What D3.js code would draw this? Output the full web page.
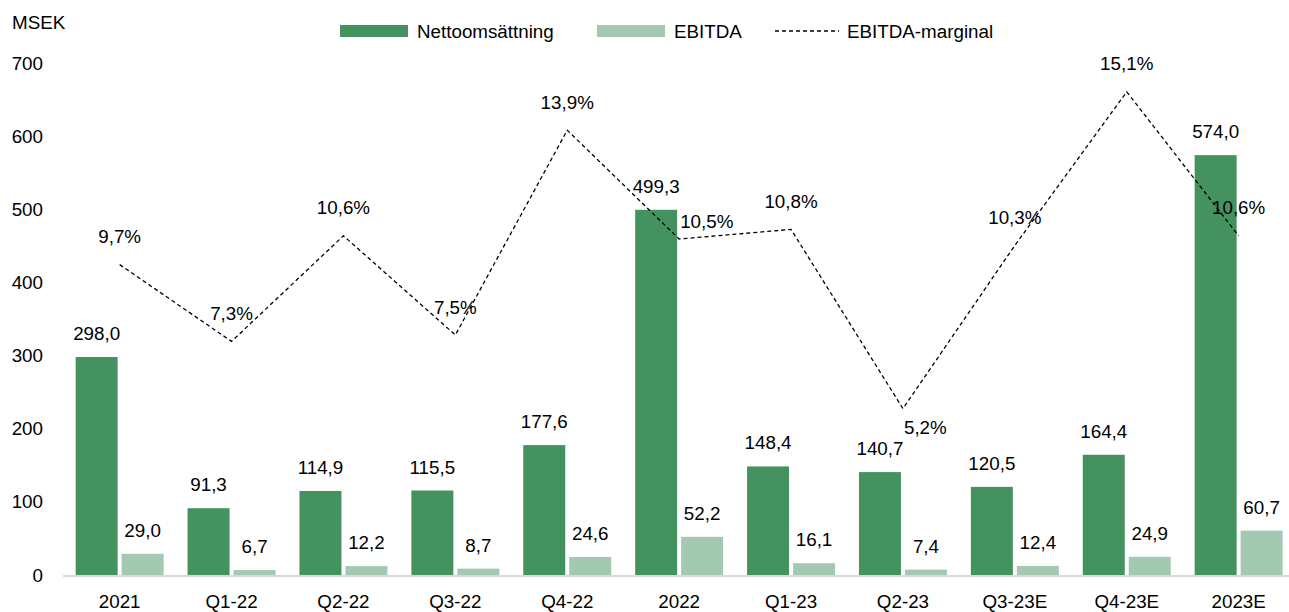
<!DOCTYPE html>
<html><head><meta charset="utf-8">
<script src="https://cdn.jsdelivr.net/npm/d3@7"></script>
<style>
body{margin:0;background:#fff;}
svg text{font-family:"Liberation Sans",Arial,sans-serif;fill:#000;}
</style></head>
<body><svg id="c" width="1289" height="612"></svg>
<script>
const categories = ["2021","Q1-22","Q2-22","Q3-22","Q4-22","2022","Q1-23","Q2-23","Q3-23E","Q4-23E","2023E"];
const netSales = [298.0,91.3,114.9,115.5,177.6,499.3,148.4,140.7,120.5,164.4,574.0];
const ebitda = [29.0,6.7,12.2,8.7,24.6,52.2,16.1,7.4,12.4,24.9,60.7];
const margin = [9.7,7.3,10.6,7.5,13.9,10.5,10.8,5.2,10.3,15.1,10.6];
const yTicks = [0,100,200,300,400,500,600,700];
const seriesNames = ["Nettoomsättning","EBITDA","EBITDA-marginal"];
// label placement for margin labels (style, not data)
const marginLabelPlace = ["above","above","above","above","above","right","above","belowRight","above","above","above"];

const fmt = v => v.toFixed(1).replace(".", ",");
const colDark = "#44925f", colLight = "#a3c9b2";
const fs = 18.8;

const svg = d3.select("#c");
const x = d3.scaleBand().domain(categories).range([63.7, 1294.6]).padding(0);
const x1 = d3.scaleBand().domain(["net","ebitda"]).range([0, x.bandwidth()]).paddingInner(4/46).paddingOuter(0.26);
const y = d3.scaleLinear().domain([0,700]).range([575,63]);
const y2 = d3.scaleLinear().domain([0,16]).range([575,63]);

// y axis labels
const ya = svg.append("g").attr("transform","translate(43,0)")
  .call(d3.axisLeft(y).tickValues(yTicks).tickSize(0).tickPadding(0).tickFormat(d3.format("d")));
ya.select(".domain").remove();
ya.selectAll("text").style("font-size", fs+"px").style("font-family","Liberation Sans, Arial, sans-serif").attr("fill","#000");

svg.append("text").attr("x",12).attr("y",29).style("font-size",fs+"px").text("MSEK");

// bars
const g = svg.append("g");
g.selectAll("rect.net").data(netSales).join("rect").attr("class","net")
  .attr("x",(d,i)=>x(categories[i])+x1("net")).attr("width",x1.bandwidth())
  .attr("y",d=>y(d)).attr("height",d=>y(0)-y(d)).attr("fill",colDark);
g.selectAll("rect.eb").data(ebitda).join("rect").attr("class","eb")
  .attr("x",(d,i)=>x(categories[i])+x1("ebitda")).attr("width",x1.bandwidth())
  .attr("y",d=>y(d)).attr("height",d=>y(0)-y(d)).attr("fill",colLight);

// axis line
svg.append("line").attr("x1",63).attr("x2",1289).attr("y1",y(0)+1).attr("y2",y(0)+1)
  .attr("stroke","#d9d9d9").attr("stroke-width",2);

// x axis labels
const xa = svg.append("g").attr("transform",`translate(0,${y(0)})`)
  .call(d3.axisBottom(x).tickSize(0).tickPadding(0));
xa.select(".domain").remove();
xa.selectAll("text").attr("dy",null).attr("y",33).style("font-size",fs+"px").style("font-family","Liberation Sans, Arial, sans-serif").attr("fill","#000");

// bar labels
g.selectAll("text.nl").data(netSales).join("text").attr("class","nl")
  .attr("x",(d,i)=>x(categories[i])+x1("net")+x1.bandwidth()/2).attr("y",d=>y(d)-17)
  .attr("text-anchor","middle").style("font-size",fs+"px").text(fmt);
g.selectAll("text.el").data(ebitda).join("text").attr("class","el")
  .attr("x",(d,i)=>x(categories[i])+x1("ebitda")+x1.bandwidth()/2).attr("y",d=>y(d)-17)
  .attr("text-anchor","middle").style("font-size",fs+"px").text(fmt);

// margin line
const cx = i => x(categories[i]) + x.bandwidth()/2;
const line = d3.line().x((d,i)=>cx(i)).y(d=>y2(d));
svg.append("path").datum(margin).attr("d",line).attr("fill","none")
  .attr("stroke","#000").attr("stroke-width",1.3).attr("stroke-dasharray","4,3");

svg.selectAll("text.ml").data(margin).join("text").attr("class","ml")
  .attr("x",(d,i)=>marginLabelPlace[i]==="above"?cx(i):cx(i)+1)
  .attr("y",(d,i)=>marginLabelPlace[i]==="above"?y2(d)-21.5:(marginLabelPlace[i]==="right"?y2(d)-11:y2(d)+25.5))
  .attr("text-anchor",(d,i)=>marginLabelPlace[i]==="above"?"middle":"start")
  .style("font-size",fs+"px").text(d=>fmt(d)+"%");

// legend
const lg = svg.append("g");
lg.append("rect").attr("x",340).attr("y",25).attr("width",68).attr("height",12).attr("fill",colDark);
lg.append("text").attr("x",417).attr("y",38).style("font-size",fs+"px").text(seriesNames[0]);
lg.append("rect").attr("x",597).attr("y",25).attr("width",68).attr("height",12).attr("fill",colLight);
lg.append("text").attr("x",674).attr("y",38).style("font-size",fs+"px").text(seriesNames[1]);
lg.append("line").attr("x1",775).attr("x2",839).attr("y1",31).attr("y2",31)
  .attr("stroke","#000").attr("stroke-width",1.3).attr("stroke-dasharray","4,3");
lg.append("text").attr("x",847).attr("y",38).style("font-size",fs+"px").text(seriesNames[2]);
</script></body></html>
